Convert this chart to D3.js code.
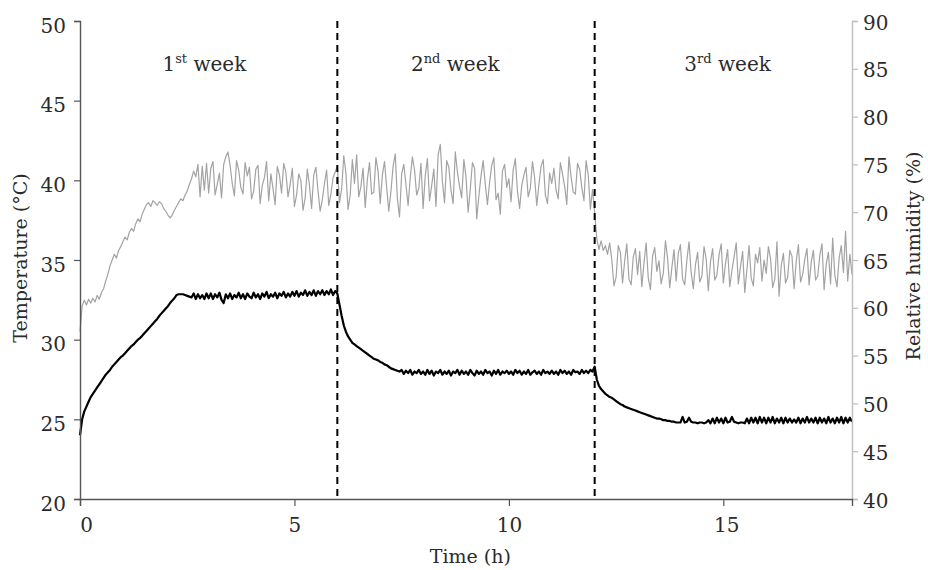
<!DOCTYPE html>
<html>
<head>
<meta charset="utf-8">
<script src="https://cdn.jsdelivr.net/npm/d3@7"></script>
<style>
  html, body { margin: 0; padding: 0; background: #fff; }
  svg { display: block; }
  text { font-family: "DejaVu Serif", "Liberation Serif", serif; fill: #2b2b2b; }
</style>
</head>
<body>
<svg id="chart" width="928" height="570"></svg>
<script>
// ---- data (sampled every 0.05 h) ----
const sampleStep = 0.05;
const xTicks = [0, 5, 10, 15];
const tempTicks = [20, 25, 30, 35, 40, 45, 50];
const humTicks = [40, 45, 50, 55, 60, 65, 70, 75, 80, 85, 90];
const weekBounds = [6, 12];
const weekLabels = [
  { num: "1", sup: "st", t: 2.9 },
  { num: "2", sup: "nd", t: 8.75 },
  { num: "3", sup: "rd", t: 15.1 }
];

const humidity = [
  57.5, 60.2, 60.8, 60.3, 60.9, 60.5, 61.0, 60.6, 61.3, 60.9, 61.6, 62.0, 62.8, 63.5, 64.4, 65.0, 65.6, 65.2, 66.0, 66.4,
  66.9, 67.4, 67.1, 67.9, 68.3, 68.0, 68.8, 69.3, 69.0, 69.8, 70.3, 70.8, 71.0, 70.6, 71.2, 71.0, 70.7, 71.1, 70.9, 70.4,
  70.1, 69.7, 69.4, 69.7, 70.2, 70.6, 71.0, 71.4, 71.2, 71.8, 72.2, 72.9, 73.5, 74.3, 73.7, 75.0, 71.6, 74.8, 72.3, 75.1,
  72.0, 74.6, 75.3, 71.8, 72.9, 74.1, 71.5, 75.0, 75.8, 76.3, 74.9, 73.0, 71.7, 75.4, 74.4, 72.6, 71.9, 75.2, 73.8, 74.7,
  71.4, 72.2, 74.5, 74.9, 70.9, 72.8, 73.6, 75.3, 71.2, 74.0, 72.5, 70.8, 74.8, 73.9, 72.0, 75.1, 74.2, 71.6, 72.9, 74.6,
  70.6, 71.8, 74.0, 73.3, 70.2, 71.5, 74.5, 72.8, 70.4, 73.9, 74.7, 72.2, 70.1, 71.3, 73.0, 74.4, 70.7, 71.9, 73.6, 74.2,
  74.8, 71.0, 72.4, 75.9, 74.1, 70.3, 71.8, 75.5, 73.0, 76.0, 71.6, 72.7, 74.6, 70.5, 73.4, 75.2, 71.9, 72.1, 75.7, 74.3,
  70.9, 73.9, 75.3, 72.6, 70.1, 72.2, 74.8, 76.1, 71.4, 69.5, 74.0, 75.0, 72.9, 70.7, 73.6, 75.8, 74.4, 71.8, 72.5, 75.1,
  70.4, 73.8, 75.6, 71.2, 72.8, 74.5, 70.6, 76.0, 77.1, 73.2, 71.0, 75.4, 74.7, 72.3, 70.9, 76.3, 74.2, 72.7, 71.5, 75.5,
  73.7, 70.0, 72.4, 75.2, 74.6, 69.3, 71.7, 73.8, 75.4, 72.9, 70.8, 73.1, 74.9, 75.7, 71.3, 72.0, 69.8, 74.3, 75.0, 72.6,
  73.5, 71.1, 74.4, 75.6, 72.2, 70.4, 72.8, 73.9, 74.7, 71.6, 72.5, 75.3, 73.6, 70.7, 72.9, 74.8, 75.5, 71.8, 70.9, 74.1,
  73.0, 74.6, 72.3, 71.4, 75.2, 74.0, 72.7, 70.8, 75.8, 73.7, 72.1, 71.9, 75.1, 74.5, 72.6, 71.2, 75.4, 73.9, 70.3, 72.4,
  70.0, 67.2, 66.1, 67.0, 66.0, 66.5, 65.6, 66.8, 65.0, 62.3, 63.2, 66.5, 65.8, 62.6, 64.9, 66.7, 63.0, 62.4, 65.3, 66.2,
  63.5, 65.9, 62.2, 64.7, 66.8, 63.1, 61.9, 65.4, 66.3, 63.8, 64.9, 62.5, 63.6, 67.0, 65.2, 62.1, 64.2, 66.1, 62.8, 65.7,
  66.6, 63.0, 62.4, 65.0, 66.9, 63.7, 62.0, 64.5, 65.8, 62.7, 63.3, 66.4, 65.1, 61.8, 64.8, 66.2, 62.9, 63.4, 65.5, 66.7,
  62.6, 64.6, 66.1, 62.2, 63.9, 65.3, 66.8, 62.5, 64.3, 65.9, 61.6, 64.0, 66.5, 63.1, 62.3, 65.6, 64.7, 66.3, 62.8, 65.0,
  63.6, 66.4, 65.2, 62.1, 63.0, 66.9, 61.2, 64.4, 65.7, 62.6, 63.2, 66.0, 65.4, 62.0, 64.9, 66.6, 62.7, 63.5, 65.1, 66.2,
  62.4, 64.8, 66.0, 62.9, 63.3, 65.5, 66.7, 61.9, 64.6, 65.8, 62.5, 67.3, 63.4, 62.2, 65.2, 66.5, 63.7, 68.0, 62.8, 65.6, 63.5
];

const temperature = [
  24.0, 25.0, 25.5, 25.8, 26.1, 26.4, 26.6, 26.8, 27.0, 27.2, 27.4, 27.6, 27.8, 27.95, 28.1, 28.3, 28.45, 28.6, 28.75, 28.9,
  29.0, 29.15, 29.3, 29.45, 29.6, 29.7, 29.85, 30.0, 30.1, 30.25, 30.4, 30.55, 30.7, 30.85, 31.0, 31.15, 31.3, 31.5, 31.65, 31.8,
  31.95, 32.1, 32.3, 32.45, 32.6, 32.8, 32.85, 32.85, 32.85, 32.8, 32.75, 32.7, 32.65, 32.9, 32.55, 32.85, 32.6, 32.8, 32.55, 32.9,
  32.6, 32.9, 32.55, 32.85, 32.65, 32.95, 32.5, 32.3, 32.85, 32.6, 32.9, 32.55, 32.8, 32.65, 32.95, 32.6, 32.85, 32.55, 32.9, 32.7,
  32.6, 32.95, 32.65, 32.85, 32.55, 32.9, 32.7, 33.0, 32.6, 32.85, 32.7, 32.95, 32.6, 32.9, 32.75, 33.0, 32.65, 32.9, 32.7, 33.0,
  32.75, 33.05, 32.7, 32.95, 32.8, 33.1, 32.75, 33.0, 32.8, 33.1, 32.75, 33.05, 32.85, 33.1, 32.8, 33.05, 32.85, 33.15, 32.8, 33.05,
  32.9, 32.2, 31.5, 30.9, 30.5, 30.2, 30.0, 29.8, 29.7, 29.6, 29.5, 29.4, 29.3, 29.2, 29.1, 29.0, 28.9, 28.8, 28.75, 28.7,
  28.6, 28.55, 28.45, 28.4, 28.3, 28.2, 28.15, 28.1, 28.05, 28.0, 28.1, 27.85, 28.05, 27.9, 28.1, 27.8, 28.0, 27.9, 28.1, 27.85,
  28.0, 27.8, 28.1, 27.85, 28.05, 27.75, 28.0, 27.9, 28.1, 27.8, 28.0, 27.85, 28.05, 27.75, 28.0, 27.9, 28.1, 27.8, 28.05, 27.85,
  28.0, 27.8, 28.1, 27.9, 27.75, 28.05, 27.85, 28.0, 27.8, 28.1, 27.9, 28.0, 27.75, 28.05, 27.85, 28.1, 27.8, 28.0, 27.9, 28.05,
  27.85, 28.0, 27.8, 28.1, 27.9, 28.05, 27.8, 28.0, 27.85, 28.1, 27.8, 27.95, 28.05, 27.85, 28.0, 27.8, 28.1, 27.9, 28.0, 27.85,
  28.05, 27.85, 28.0, 27.8, 28.1, 27.9, 28.05, 27.85, 28.0, 27.8, 28.1, 27.95, 28.0, 27.85, 28.1, 27.9, 28.05, 27.9, 28.1, 28.0,
  28.3, 27.5, 27.1, 26.9, 26.75, 26.6, 26.5, 26.4, 26.35, 26.25, 26.15, 26.05, 25.95, 25.9, 25.8, 25.75, 25.7, 25.65, 25.6, 25.55,
  25.5, 25.45, 25.4, 25.35, 25.3, 25.25, 25.2, 25.15, 25.1, 25.05, 25.05, 25.0, 24.95, 24.95, 24.9, 24.9, 24.85, 24.85, 24.8, 24.8,
  24.8, 25.15, 24.8, 24.85, 25.1, 24.85, 24.8, 24.8, 24.75, 24.8, 24.8, 24.75, 24.8, 24.95, 24.75, 25.05, 24.75, 25.1, 24.8, 25.05,
  24.75, 25.1, 24.8, 24.85, 25.15, 24.85, 24.8, 24.75, 24.8, 24.8, 24.75, 25.05, 24.75, 25.1, 24.8, 25.1, 24.75, 25.15, 24.8, 25.1,
  24.75, 25.1, 24.8, 25.15, 24.75, 25.05, 24.8, 25.1, 24.75, 25.1, 24.8, 25.05, 24.8, 25.0, 24.8, 25.1, 24.75, 25.05, 24.8, 25.15,
  24.8, 25.05, 24.8, 25.1, 24.75, 25.1, 24.8, 25.05, 24.75, 25.15, 24.8, 25.05, 24.75, 25.1, 24.8, 25.15, 24.75, 25.1, 24.8, 25.1, 24.85
];

// ---- layout ----
const svg = d3.select("#chart");
const mLeft = 80, mRight = 852, mTop = 21, mBottom = 499;

const x = d3.scaleLinear().domain([0, 18]).range([mLeft, mRight]);
const yT = d3.scaleLinear().domain([20, 50]).range([mBottom, mTop]);
const yH = d3.scaleLinear().domain([40, 90]).range([mBottom, mTop]);

const fontSize = 20;

// humidity line
const humLine = d3.line()
  .x((d, i) => x(i * sampleStep))
  .y(d => yH(d));
svg.append("path")
  .datum(humidity)
  .attr("fill", "none")
  .attr("stroke", "#a3a3a3")
  .attr("stroke-width", 1.2)
  .attr("stroke-linejoin", "round")
  .attr("d", humLine);

// temperature line
const tempLine = d3.line()
  .x((d, i) => x(i * sampleStep))
  .y(d => yT(d));
svg.append("path")
  .datum(temperature)
  .attr("fill", "none")
  .attr("stroke", "#000")
  .attr("stroke-width", 2.2)
  .attr("stroke-linejoin", "round")
  .attr("d", tempLine);

// week dividers
svg.selectAll("line.week")
  .data(weekBounds)
  .join("line")
  .attr("class", "week")
  .attr("x1", d => x(d)).attr("x2", d => x(d))
  .attr("y1", mTop).attr("y2", mBottom)
  .attr("stroke", "#000")
  .attr("stroke-width", 2)
  .attr("stroke-dasharray", "7,5");

// week labels
const wl = svg.selectAll("text.week")
  .data(weekLabels)
  .join("text")
  .attr("class", "week")
  .attr("x", d => x(d.t))
  .attr("y", 71)
  .attr("text-anchor", "middle")
  .style("font-size", fontSize + "px");
wl.append("tspan").text(d => d.num);
wl.append("tspan").attr("dy", -8).style("font-size", "13px").text(d => d.sup);
wl.append("tspan").attr("dy", 8).text(d => "\u00a0week");

// left axis
const gL = svg.append("g")
  .attr("transform", `translate(${mLeft},0)`)
  .call(d3.axisLeft(yT).tickValues(tempTicks).tickSize(6).tickPadding(8).tickFormat(d3.format("d")));
gL.select(".domain").attr("stroke", "#555").attr("stroke-width", 1.4);
gL.selectAll(".tick line").attr("stroke", "#555").attr("stroke-width", 1.2);
gL.selectAll(".tick text").style("font-size", fontSize + "px").attr("fill", "#2b2b2b")
  .attr("dy", "0.55em");
gL.attr("font-family", null);

// right axis
const gR = svg.append("g")
  .attr("transform", `translate(${mRight},0)`)
  .call(d3.axisRight(yH).tickValues(humTicks).tickSize(6).tickPadding(5).tickFormat(d3.format("d")));
gR.select(".domain").attr("stroke", "#bdbdbd").attr("stroke-width", 1.4);
gR.selectAll(".tick line").attr("stroke", "#bdbdbd").attr("stroke-width", 1.2);
gR.selectAll(".tick text").style("font-size", fontSize + "px").attr("fill", "#2b2b2b")
  .attr("dy", "0.4em");
gR.attr("font-family", null);

// bottom axis
const gB = svg.append("g")
  .attr("transform", `translate(0,${mBottom})`)
  .call(d3.axisBottom(x).tickValues(xTicks).tickSize(7).tickPadding(12).tickFormat(d3.format("d")));
gB.select(".domain").attr("stroke", "#555").attr("stroke-width", 1.4);
gB.selectAll(".tick line").attr("stroke", "#555").attr("stroke-width", 1.2);
gB.selectAll(".tick text").style("font-size", fontSize + "px").attr("fill", "#2b2b2b")
  .attr("dx", d => d === 0 ? 6 : (d === 15 ? 3 : 0));
gB.attr("font-family", null);

// axis titles
svg.append("text")
  .attr("transform", `translate(27,258) rotate(-90)`)
  .attr("text-anchor", "middle")
  .style("font-size", "19px")
  .text("Temperature (\u00b0C)");

svg.append("text")
  .attr("transform", `translate(920,256) rotate(-90)`)
  .attr("text-anchor", "middle")
  .style("font-size", "19px")
  .text("Relative humidity (%)");

svg.append("text")
  .attr("x", x(9.1))
  .attr("y", 563)
  .attr("text-anchor", "middle")
  .style("font-size", "19px")
  .text("Time (h)");
</script>
</body>
</html>
